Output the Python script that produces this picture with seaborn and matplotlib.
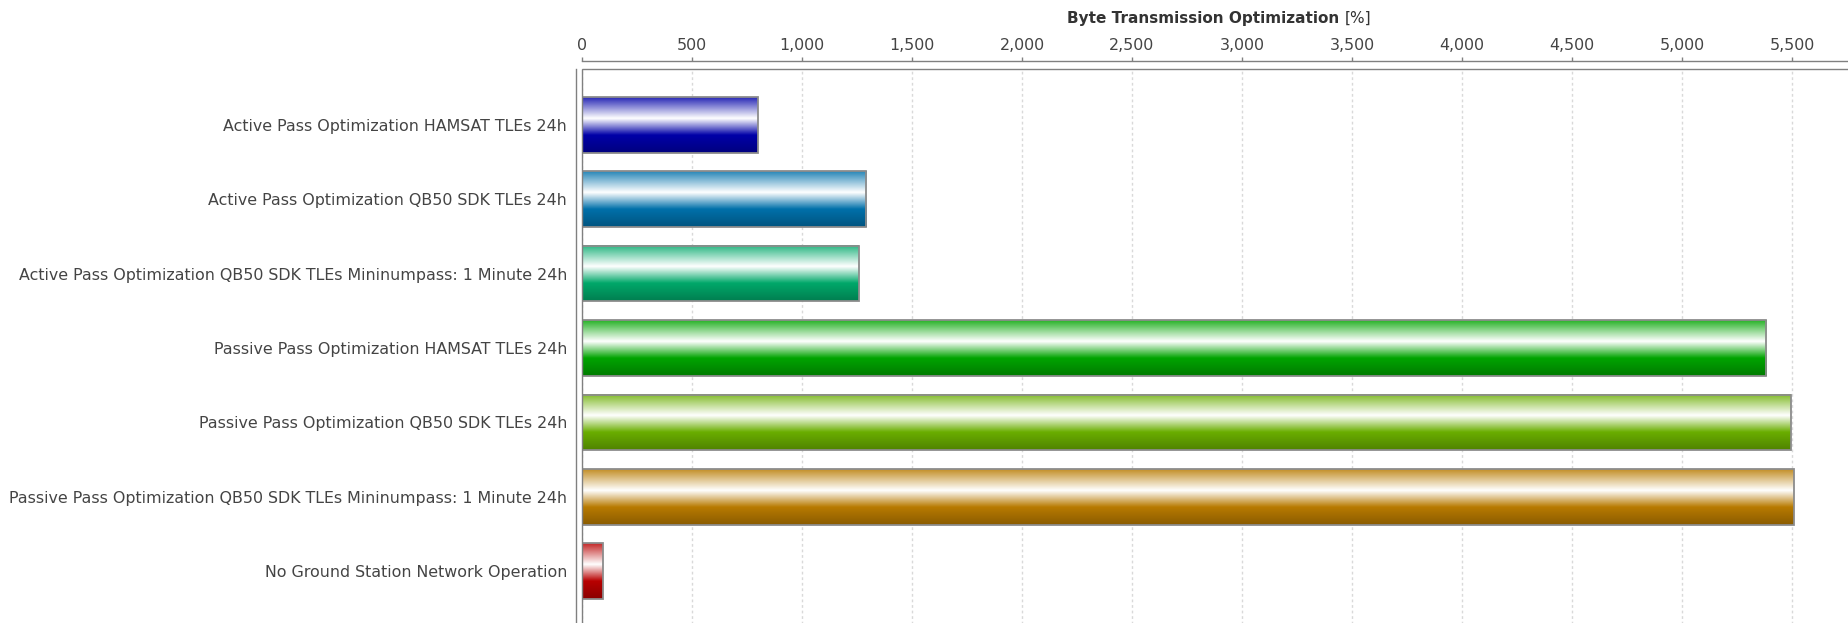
import numpy as np
import pandas as pd
import matplotlib
matplotlib.use("Agg")
import matplotlib.pyplot as plt
import seaborn as sns
from matplotlib.colors import to_rgb
from matplotlib.patches import Rectangle
from matplotlib.ticker import FuncFormatter

# ---- data ----
categories = [
    "Active Pass Optimization HAMSAT TLEs 24h",
    "Active Pass Optimization QB50 SDK TLEs 24h",
    "Active Pass Optimization QB50 SDK TLEs Mininumpass: 1 Minute 24h",
    "Passive Pass Optimization HAMSAT TLEs 24h",
    "Passive Pass Optimization QB50 SDK TLEs 24h",
    "Passive Pass Optimization QB50 SDK TLEs Mininumpass: 1 Minute 24h",
    "No Ground Station Network Operation",
]
values = [800, 1291, 1259, 5382, 5495, 5509, 95]
bar_colors = ["#0000A8", "#0070AA", "#00A86A", "#00A400", "#6AAE00", "#B87A00", "#B80000"]
axis_title = "Byte Transmission Optimization"
axis_unit = "[%]"
tick_values = list(range(0, 5501, 500))

# ---- figure geometry (pixels) ----
W, H, DPI = 1848, 623, 100
left_px, right_px, top_px, bottom_px = 582, 1849, 69, 627

sns.set_theme(style="white")
plt.rcParams["font.family"] = ["DejaVu Sans"]

fig = plt.figure(figsize=(W / DPI, H / DPI), dpi=DPI)
fig.patch.set_facecolor("white")
ax = fig.add_axes([left_px / W, 1 - bottom_px / H,
                   (right_px - left_px) / W, (bottom_px - top_px) / H])

df = pd.DataFrame({"category": categories, "value": values})
sns.barplot(data=df, x="value", y="category", hue="category",
            palette=bar_colors, legend=False, width=0.75, orient="h",
            saturation=1, ax=ax)


def gradient_column(color, n=256):
    """Glossy vertical shading: tinted top, white highlight, base, dark bottom."""
    c = np.array(to_rgb(color))
    white = np.ones(3)
    top = c + (white - c) * 0.15
    dark = c * 0.75
    pos = [0.0, 0.38, 0.68, 1.0]
    cols = [top, white, c, dark]
    t = np.linspace(0, 1, n)
    out = np.empty((n, 3))
    for k in range(3):
        out[:, k] = np.interp(t, pos, [cc[k] for cc in cols])
    return out


for container in ax.containers:
    for patch in container:
        x0, y0 = patch.get_x(), patch.get_y()
        w, h = patch.get_width(), patch.get_height()
        idx = int(round(y0 + h / 2))
        img = gradient_column(bar_colors[idx])[:, None, :]
        ax.imshow(img, extent=(x0, x0 + w, y0 + h, y0), aspect="auto",
                  interpolation="bilinear", zorder=2)
        patch.set_facecolor("none")
        patch.set_edgecolor("#8c8c8c")
        patch.set_linewidth(1.3)
        patch.set_zorder(3)

ax.set_xlim(0, (right_px - left_px) / 0.22)
ax.set_ylim(6.75, -0.75)

# gridlines
ax.set_axisbelow(True)
ax.xaxis.grid(True, color="#d9d9d9", linestyle=(0, (2, 2)), linewidth=1)
ax.yaxis.grid(False)

# axes lines offset from the plot outline
for s in ["right", "bottom"]:
    ax.spines[s].set_visible(False)
ax.spines["top"].set_position(("outward", 8 * 72 / DPI))
ax.spines["left"].set_position(("outward", 6 * 72 / DPI))
for s in ["top", "left"]:
    ax.spines[s].set_color("#808080")
    ax.spines[s].set_linewidth(1)

ax.add_patch(Rectangle((0, 0), 1, 1, transform=ax.transAxes, fill=False,
                       edgecolor="#808080", linewidth=1, zorder=4, clip_on=False))

ax.xaxis.tick_top()
ax.set_xticks(tick_values)
ax.xaxis.set_major_formatter(FuncFormatter(lambda v, p: f"{v:,.0f}"))
ax.tick_params(axis="x", direction="out", length=3, width=1, color="#808080",
               pad=3, labelsize=11.4, labelcolor="#444444")
ax.tick_params(axis="y", direction="out", length=3, width=1, color="#808080",
               pad=3.5, labelsize=11.4, labelcolor="#444444")
ax.set_xlabel("")
ax.set_ylabel("")

# axis title: bold name followed by a regular-weight unit
title_y = 1 - 18 / H
t1 = fig.text(0, title_y, axis_title, fontsize=11, fontweight="bold",
              color="#333333", ha="left", va="center")
t2 = fig.text(0, title_y, axis_unit, fontsize=11, color="#333333",
              ha="left", va="center")
fig.canvas.draw()
r = fig.canvas.get_renderer()
w1 = t1.get_window_extent(r).width
w2 = t2.get_window_extent(r).width
gap = 5
x_start = 1219 - (w1 + gap + w2) / 2
t1.set_x(x_start / W)
t2.set_x((x_start + w1 + gap) / W)

fig.savefig("out.png", dpi=DPI)
